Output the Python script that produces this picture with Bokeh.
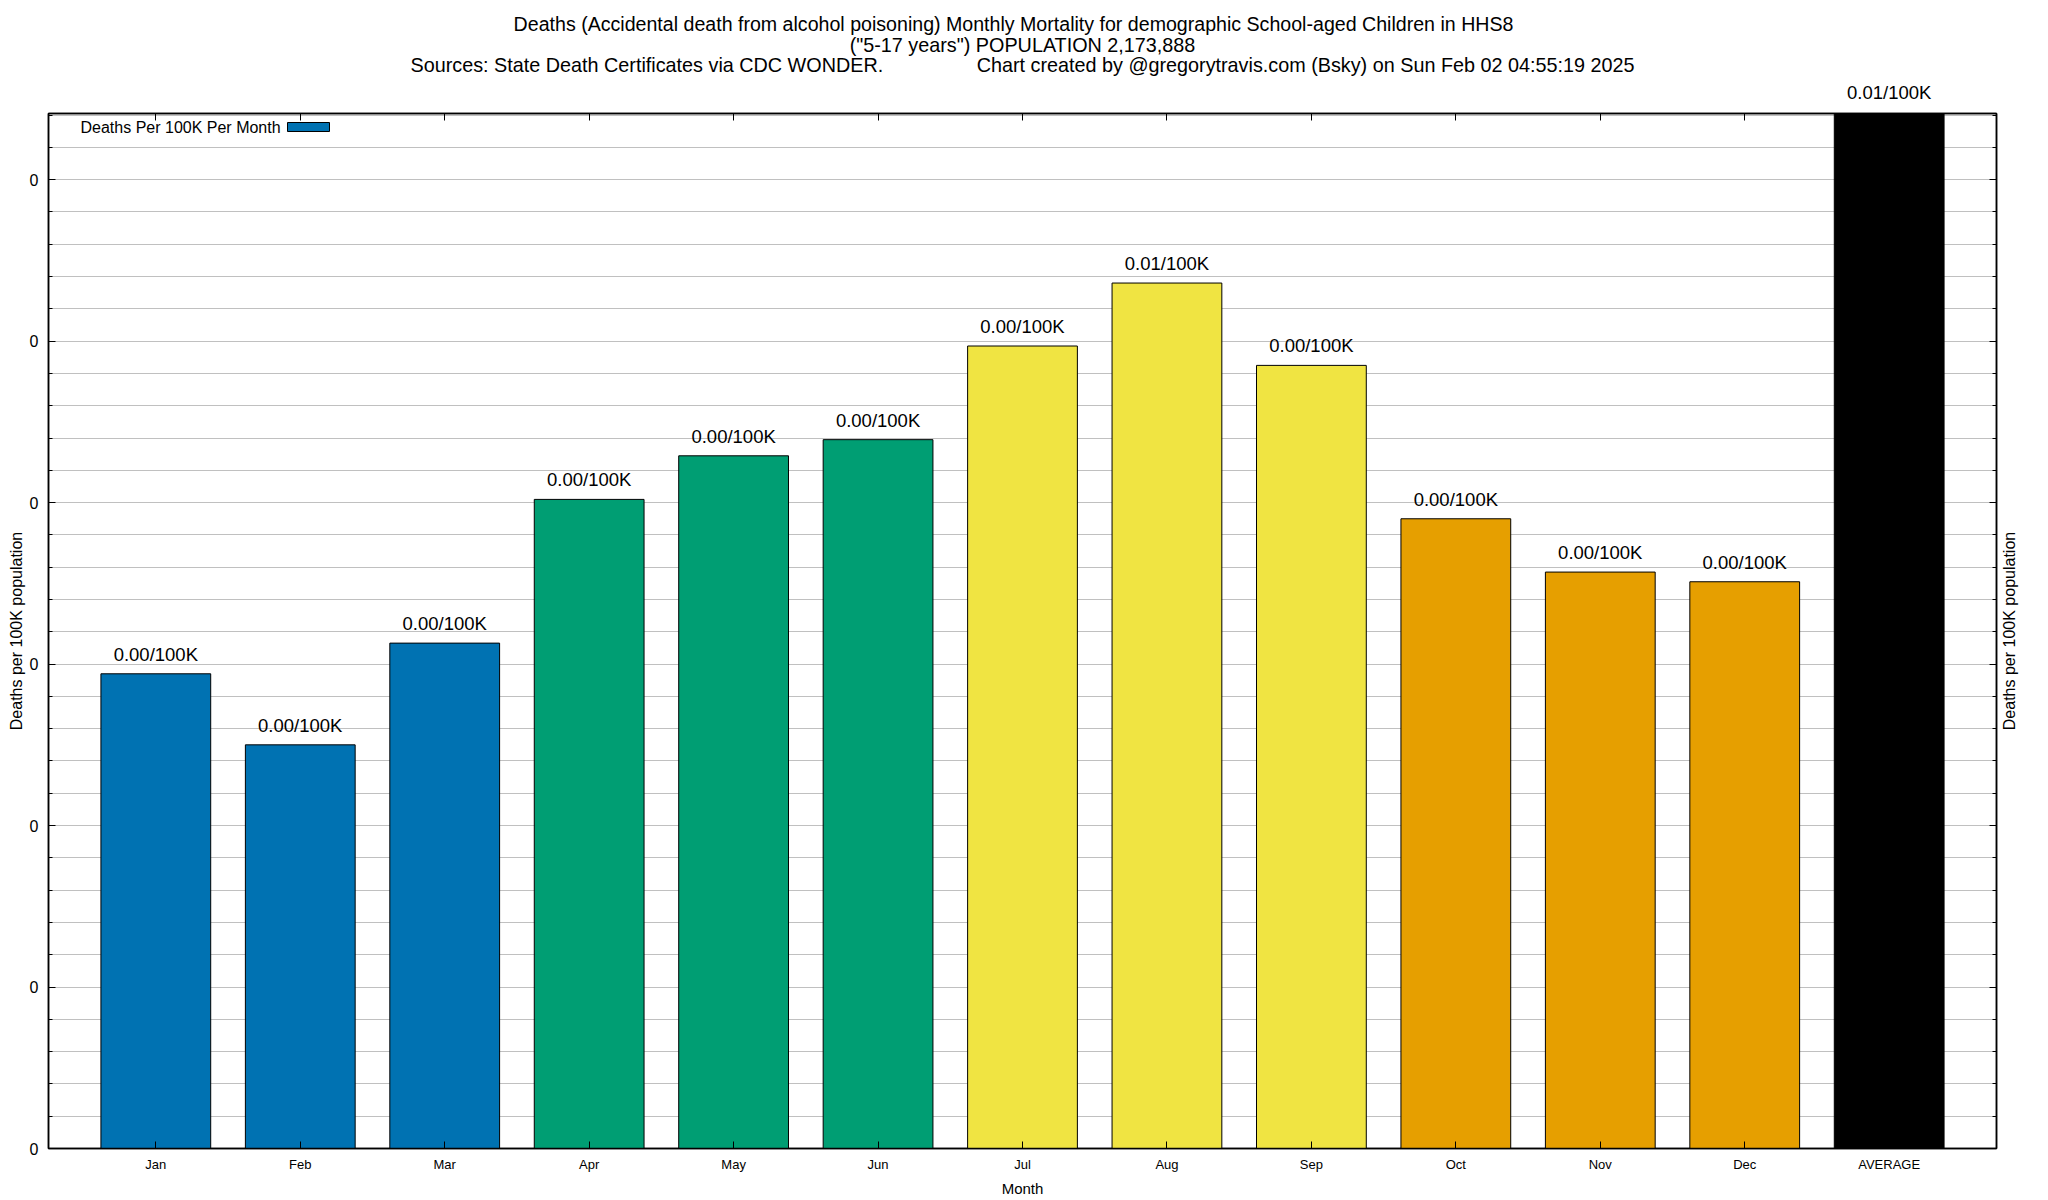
import math
from bokeh.plotting import figure
from bokeh.models import (Range1d, FixedTicker, PrintfTickFormatter, LinearAxis, Label,
                          LabelSet, ColumnDataSource, BoxAnnotation)
from bokeh.core.properties import value
from bokeh.embed import file_html
from bokeh.resources import INLINE

# ---- data ----
months = ["Jan", "Feb", "Mar", "Apr", "May", "Jun", "Jul", "Aug", "Sep", "Oct", "Nov", "Dec"]
month_rates = [0.00294, 0.00250, 0.00313, 0.00402, 0.00429, 0.00439, 0.00497, 0.00536,
               0.00485, 0.00390, 0.00357, 0.00351]
avg_name = "AVERAGE"
avg_rate = 0.00641
month_colors = ["#0072B2"] * 3 + ["#009E73"] * 3 + ["#F0E442"] * 3 + ["#E69F00"] * 3
avg_color = "#000000"
y_major = [0.0, 0.001, 0.002, 0.003, 0.004, 0.005, 0.006]
y_minor = [round(i * 0.0002, 6) for i in range(0, 33)]

title_lines = [
    "Deaths (Accidental death from alcohol poisoning) Monthly Mortality for demographic School-aged Children in HHS8",
    "(\"5-17 years\") POPULATION 2,173,888",
    "Sources: State Death Certificates via CDC WONDER." + "\u00a0" * 17
    + "Chart created by @gregorytravis.com (Bsky) on Sun Feb 02 04:55:19 2025",
]
legend_label = "Deaths Per 100K Per Month"
x_title = "Month"
y_title = "Deaths per 100K population"

FONT = "Liberation Sans"
FW, FH = 1948, 1035
LBL_OFF = 13

cats = months + [avg_name]
rates = month_rates + [avg_rate]
colors = month_colors + [avg_color]
labels = [f"{v:.2f}/100K" for v in rates]

bars = ColumnDataSource(dict(x=list(range(len(cats))), top=rates, color=colors))
msrc = ColumnDataSource(dict(x=list(range(len(months))), top=month_rates, label=labels[:len(months)]))

xr = Range1d(-0.743, len(cats) - 1 + 0.743)
yr = Range1d(0, avg_rate)
p = figure(frame_width=FW, frame_height=FH, x_range=xr, y_range=yr,
           output_backend="svg", toolbar_location=None,
           min_border_left=48, min_border_right=52, min_border_top=113, min_border_bottom=52)
p.background_fill_color = "white"
p.border_fill_color = "white"
p.outline_line_color = "black"
p.outline_line_width = 1.5

# grid
p.xgrid.grid_line_color = None
p.ygrid.grid_line_color = "#c0c0c0"
p.ygrid.minor_grid_line_color = "#c0c0c0"
p.ygrid.grid_line_width = 1
p.ygrid.minor_grid_line_width = 1

xt = FixedTicker(ticks=list(range(len(cats))))
yt = FixedTicker(ticks=y_major, minor_ticks=y_minor)

def style_axis(ax):
    ax.axis_line_color = "black"
    ax.axis_line_width = 1.5
    ax.major_tick_in = 7
    ax.major_tick_out = 0
    ax.minor_tick_in = 4
    ax.minor_tick_out = 0
    ax.major_tick_line_color = "black"
    ax.minor_tick_line_color = "black"
    ax.major_tick_line_width = 1
    ax.minor_tick_line_width = 1
    ax.major_label_text_font = FONT
    ax.major_label_text_color = "black"
    ax.axis_label_text_font = FONT
    ax.axis_label_text_font_style = "normal"
    ax.axis_label_text_color = "black"

# bottom axis
bx = p.xaxis[0]
bx.ticker = xt
bx.major_label_overrides = {i: m for i, m in enumerate(cats)}
style_axis(bx)
bx.minor_tick_line_color = None
bx.major_label_text_font_size = "13px"
bx.major_label_standoff = 8
bx.axis_label = x_title
bx.axis_label_text_font_size = "15px"
bx.axis_label_standoff = 5

# top axis (mirror, ticks only)
tx = LinearAxis(ticker=xt)
style_axis(tx)
tx.minor_tick_line_color = None
tx.major_label_text_font_size = "0px"
tx.major_label_text_color = None
tx.major_label_standoff = 0
p.add_layout(tx, "above")

# left axis
ly = p.yaxis[0]
ly.ticker = yt
ly.formatter = PrintfTickFormatter(format="%.0f")
style_axis(ly)
ly.major_label_text_font_size = "16px"
ly.major_label_standoff = 10
ly.axis_label = y_title
ly.axis_label_text_font_size = "16px"
ly.axis_label_standoff = 2

# right axis (mirror, ticks only)
ry = LinearAxis(ticker=yt)
style_axis(ry)
ry.major_label_text_font_size = "0px"
ry.major_label_text_color = None
ry.major_label_standoff = 0
p.add_layout(ry, "right")

# right axis title, reading bottom-to-top like gnuplot's y2 label
p.add_layout(Label(x=xr.end, y=(yr.start + yr.end) / 2, x_offset=13, text=y_title,
                   angle=math.pi / 2, text_align="center", text_baseline="middle",
                   text_font=FONT, text_font_size="16px", text_color="black"), "right")

# bars
p.vbar(x="x", top="top", bottom=0, width=0.76, source=bars,
       fill_color="color", line_color="black", line_width=1)

# month value labels (inside the frame)
p.add_layout(LabelSet(x="x", y="top", text="label", source=msrc,
                      text_align="center", text_baseline="alphabetic", y_offset=LBL_OFF,
                      text_font=value(FONT), text_font_size=value("18.5px"), text_color="black"))

# average value label (sits above the frame -> side panel, not clipped)
p.add_layout(Label(x=len(cats) - 1, y=avg_rate, text=labels[-1], y_offset=LBL_OFF + 8,
                   text_align="center", text_baseline="alphabetic",
                   text_font=FONT, text_font_size="18.5px", text_color="black"), "above")

# title lines, positioned relative to the top of the frame
xmid = (xr.start + xr.end) / 2
for t, off, dx, fs in zip(title_lines, [89.5, 69, 49], [-9, 0, 0], ["19.6px", "19.8px", "19.8px"]):
    p.add_layout(Label(x=xmid, y=yr.end, x_offset=dx, y_offset=off, text=t,
                       text_align="center", text_baseline="middle",
                       text_font=FONT, text_font_size=fs, text_color="black"), "above")

# legend (gnuplot style: text then swatch)
p.add_layout(Label(x=32, y=FH - 14, x_units="screen", y_units="screen", text=legend_label,
                   text_align="left", text_baseline="middle",
                   text_font=FONT, text_font_size="16px", text_color="black"))
p.add_layout(BoxAnnotation(left=239, right=281, top=FH - 9, bottom=FH - 18,
                           left_units="screen", right_units="screen",
                           top_units="screen", bottom_units="screen",
                           fill_color=month_colors[0], fill_alpha=1.0,
                           line_color="black", line_width=1, line_alpha=1.0))

open("out.html", "w").write(file_html(p, INLINE))
